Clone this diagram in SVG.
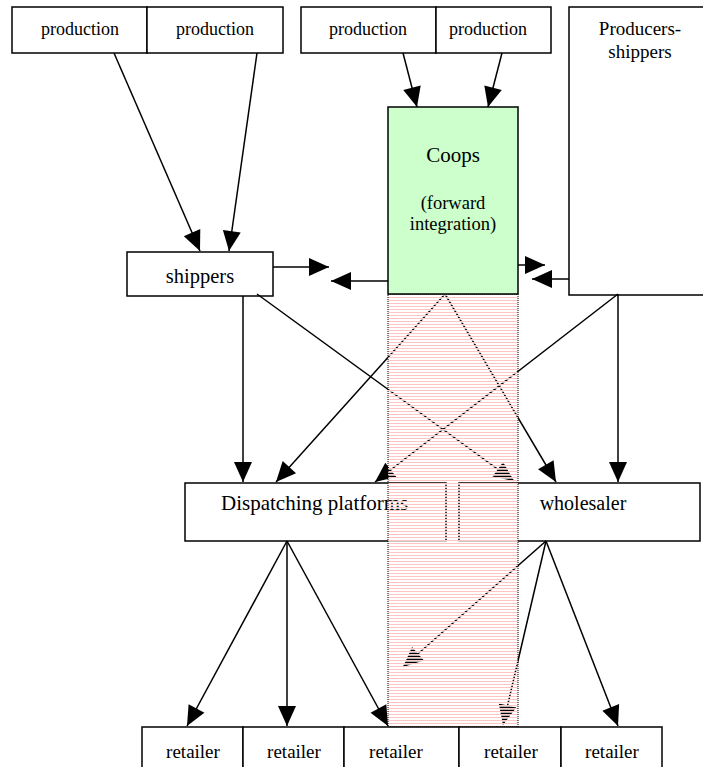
<svg xmlns="http://www.w3.org/2000/svg" width="703" height="767" viewBox="0 0 703 767">
<style>
.box{fill:#fff;stroke:#000;stroke-width:1.5}
.t{font-family:"Liberation Serif","Times New Roman",serif;fill:#000;text-anchor:middle}
.c line{stroke:#000;stroke-width:1.5;marker-end:url(#ah)}
</style>
<defs>
<marker id="ah" markerUnits="userSpaceOnUse" markerWidth="20" markerHeight="18" refX="20" refY="9" orient="auto" overflow="visible">
<path d="M0,0 L20,9 L0,18 Z" fill="#000"/>
</marker>
<pattern id="stripes" patternUnits="userSpaceOnUse" x="0" y="0" width="10" height="3">
<rect x="0" y="0" width="10" height="1" fill="#ffc4c4"/>
<rect x="0" y="1" width="10" height="1" fill="#ffffff" fill-opacity="0.7"/>
</pattern>
</defs>
<rect width="703" height="767" fill="#fff"/>

<g id="production-1"><rect class="box" x="12" y="7" width="135" height="46"/><text class="t" x="80" y="35" font-size="18" font-family="Liberation Serif, serif">production</text></g>
<g id="production-2"><rect class="box" x="147" y="7" width="136" height="46"/><text class="t" x="215" y="35" font-size="18" font-family="Liberation Serif, serif">production</text></g>
<g id="production-3"><rect class="box" x="301" y="7" width="135" height="46"/><text class="t" x="368" y="35" font-size="18" font-family="Liberation Serif, serif">production</text></g>
<g id="production-4"><rect class="box" x="436" y="7" width="115" height="46"/><text class="t" x="488" y="35" font-size="18" font-family="Liberation Serif, serif">production</text></g>
<g id="producers-shippers"><rect class="box" x="569" y="7" width="150" height="288"/><text class="t" x="640" y="35" font-size="19" font-family="Liberation Serif, serif">Producers-</text><text class="t" x="640" y="58" font-size="19" font-family="Liberation Serif, serif">shippers</text></g>
<g id="shippers"><rect class="box" x="127" y="252" width="146" height="44"/><text class="t" x="200" y="283" font-size="20.5" font-family="Liberation Serif, serif">shippers</text></g>
<g id="dispatching"><rect class="box" x="185" y="483" width="261" height="58"/><text class="t" x="221" y="510" font-size="21" font-family="Liberation Serif, serif" style="text-anchor:start">Dispatching platforms</text></g>
<g id="wholesaler"><rect class="box" x="459" y="483" width="241" height="58"/><text class="t" x="583" y="510" font-size="20" font-family="Liberation Serif, serif">wholesaler</text></g>

<g id="connectors" class="c">
<line x1="114" y1="53" x2="200" y2="251"/>
<line x1="257" y1="53" x2="229" y2="251"/>
<line x1="403" y1="53" x2="417" y2="107"/>
<line x1="502" y1="53" x2="488" y2="107"/>
<line x1="273" y1="267" x2="329" y2="267"/>
<line x1="388" y1="281" x2="331" y2="281"/>
<line x1="518" y1="265" x2="545" y2="265"/>
<line x1="569" y1="279" x2="532" y2="279"/>
<line x1="243" y1="296" x2="243" y2="482"/>
<line x1="257" y1="294" x2="514" y2="481"/>
<line x1="445" y1="294" x2="276" y2="482"/>
<line x1="445" y1="294" x2="556" y2="482"/>
<line x1="618" y1="294" x2="375" y2="482"/>
<line x1="618" y1="294" x2="618" y2="482"/>
<line x1="287" y1="541" x2="187" y2="726"/>
<line x1="287" y1="541" x2="287" y2="726"/>
<line x1="287" y1="541" x2="388" y2="726"/>
<line x1="546" y1="541" x2="403" y2="667"/>
<line x1="546" y1="541" x2="503" y2="725"/>
<line x1="546" y1="541" x2="618" y2="726"/>
</g>

<g id="integration-zone">
<rect x="388" y="294" width="130" height="433" fill="url(#stripes)"/>
<rect x="388" y="294" width="130" height="433" fill="none" stroke="#000" stroke-width="1" stroke-dasharray="1,1"/>
</g>

<g id="coops"><rect class="box" x="388" y="107" width="130" height="187" style="fill:#ccffcc"/><text class="t" x="453" y="162" font-size="21" font-family="Liberation Serif, serif">Coops</text><text class="t" x="453" y="209" font-size="18.5" font-family="Liberation Serif, serif">(forward</text><text class="t" x="453" y="230" font-size="18.5" font-family="Liberation Serif, serif">integration)</text></g>

<g id="retailer-1"><rect class="box" x="142" y="727" width="101" height="60"/><text class="t" x="193" y="758" font-size="19" font-family="Liberation Serif, serif">retailer</text></g>
<g id="retailer-2"><rect class="box" x="243" y="727" width="101" height="60"/><text class="t" x="294" y="758" font-size="19" font-family="Liberation Serif, serif">retailer</text></g>
<g id="retailer-3"><rect class="box" x="344" y="727" width="115" height="60"/><text class="t" x="396" y="758" font-size="19" font-family="Liberation Serif, serif">retailer</text></g>
<g id="retailer-4"><rect class="box" x="459" y="727" width="102" height="60"/><text class="t" x="511" y="758" font-size="19" font-family="Liberation Serif, serif">retailer</text></g>
<g id="retailer-5"><rect class="box" x="561" y="727" width="101" height="60"/><text class="t" x="612" y="758" font-size="19" font-family="Liberation Serif, serif">retailer</text></g>
</svg>
